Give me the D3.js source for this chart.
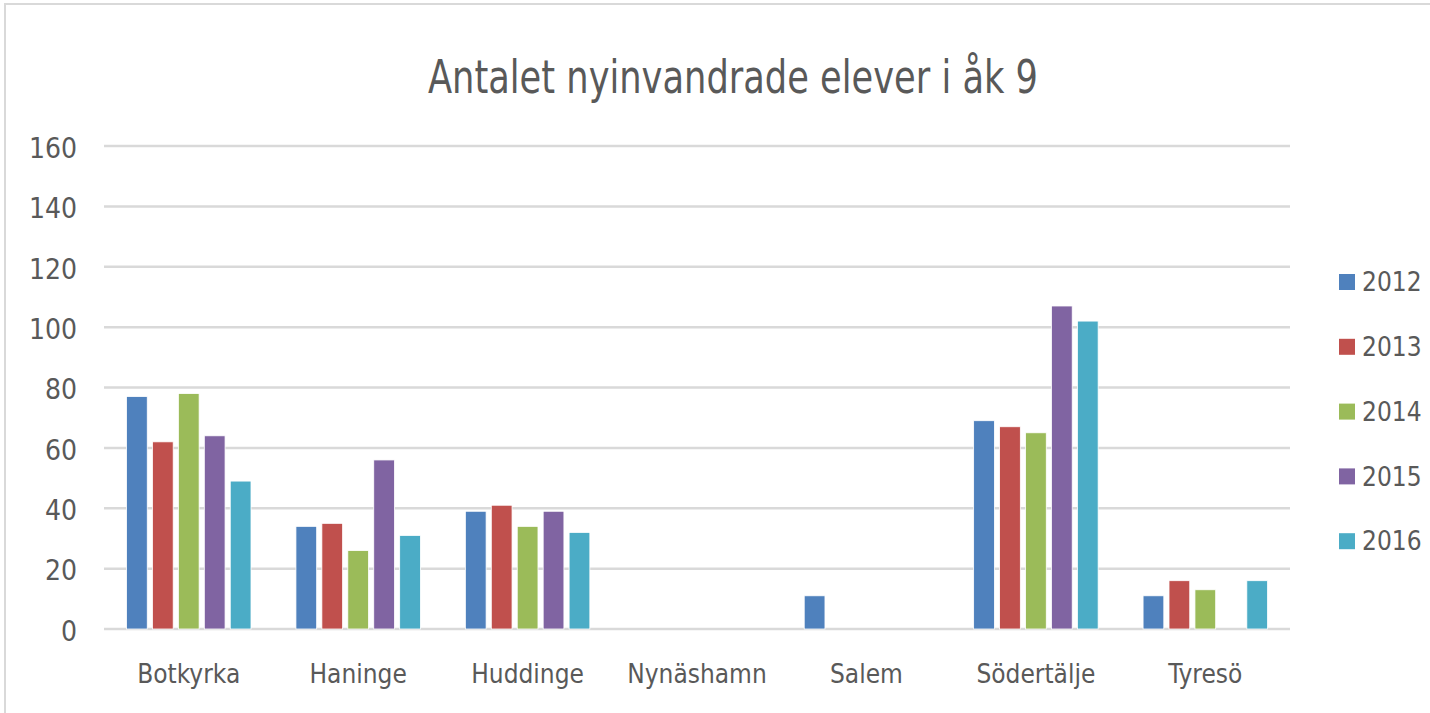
<!DOCTYPE html>
<html>
<head>
<meta charset="utf-8">
<script src="https://cdn.jsdelivr.net/npm/d3@7"></script>
<style>
  body { margin: 0; background: #fff; }
  svg text { font-family: "Liberation Sans Narrow", "DejaVu Sans Condensed", sans-serif; fill: #595959; }
</style>
</head>
<body>
<svg id="chart" width="1430" height="713"></svg>
<script>
// Data
const kommuner = ['Botkyrka', 'Haninge', 'Huddinge', 'Nynäshamn', 'Salem', 'Södertälje', 'Tyresö'];
const years = ['2012', '2013', '2014', '2015', '2016'];
const v2012 = [77, 34, 39, null, 11, 69, 11];
const v2013 = [62, 35, 41, null, null, 67, 16];
const v2014 = [78, 26, 34, null, null, 65, 13];
const v2015 = [64, 56, 39, null, null, 107, null];
const v2016 = [49, 31, 32, null, null, 102, 16];
const yTicks = [0, 20, 40, 60, 80, 100, 120, 140, 160];
const colors = ['#4f81bd', '#c0504d', '#9bbb59', '#8064a2', '#4bacc6'];

const series = [v2012, v2013, v2014, v2015, v2016];

const svg = d3.select('#chart');

// chart border (only top and left visible)
svg.append('path')
    .attr('d', 'M5,713 L5,4 L1430,4')
    .attr('fill', 'none')
    .attr('stroke', '#d9d9d9')
    .attr('stroke-width', 2);

// Title
svg.append('text')
    .attr('x', 733)
    .attr('y', 93)
    .attr('text-anchor', 'middle')
    .attr('font-size', 46)
    .attr('textLength', 610)
    .attr('lengthAdjust', 'spacingAndGlyphs')
    .text('Antalet nyinvandrade elever i åk 9');

// Scales
const x0 = d3.scaleBand().domain(kommuner).range([104, 1290]);
const x1 = d3.scaleBand().domain(years).range([22.5, 147]).paddingInner(0.2);
const y = d3.scaleLinear().domain([0, 160]).range([629, 146]);
const color = d3.scaleOrdinal().domain(years).range(colors);

// Gridlines
svg.append('g')
    .selectAll('line')
    .data(yTicks)
    .join('line')
    .attr('x1', 104)
    .attr('x2', 1290)
    .attr('y1', d => y(d))
    .attr('y2', d => y(d))
    .attr('stroke', '#d9d9d9')
    .attr('stroke-width', 2.5);

// Y labels
svg.append('g')
    .selectAll('text')
    .data(yTicks)
    .join('text')
    .attr('x', 77)
    .attr('y', d => y(d) + 2)
    .attr('dy', '0.35em')
    .attr('text-anchor', 'end')
    .attr('font-size', 28)
    .text(d => d);

// Bars
const rows = [];
kommuner.forEach((k, i) => {
    years.forEach((yr, j) => {
        if (series[j][i] != null) rows.push({ k: k, yr: yr, v: series[j][i] });
    });
});

svg.append('g')
    .selectAll('rect')
    .data(rows)
    .join('rect')
    .attr('x', d => x0(d.k) + x1(d.yr))
    .attr('width', x1.bandwidth())
    .attr('y', d => y(d.v))
    .attr('height', d => y(0) - y(d.v))
    .attr('fill', d => color(d.yr))
    .attr('stroke', '#fff')
    .attr('stroke-width', 0.8);

// Category labels
svg.append('g')
    .selectAll('text')
    .data(kommuner)
    .join('text')
    .attr('x', d => x0(d) + x0.bandwidth() / 2)
    .attr('y', 683)
    .attr('text-anchor', 'middle')
    .attr('font-size', 26)
    .text(d => d);

// Legend
const legend = svg.append('g')
    .selectAll('g')
    .data(years)
    .join('g')
    .attr('transform', (d, i) => `translate(1339, ${282 + i * 64.8})`);

legend.append('rect')
    .attr('x', 0)
    .attr('y', -8)
    .attr('width', 16)
    .attr('height', 16)
    .attr('fill', d => color(d));

legend.append('text')
    .attr('x', 23)
    .attr('y', 0)
    .attr('dy', '0.35em')
    .attr('font-size', 26)
    .text(d => d);
</script>
</body>
</html>
